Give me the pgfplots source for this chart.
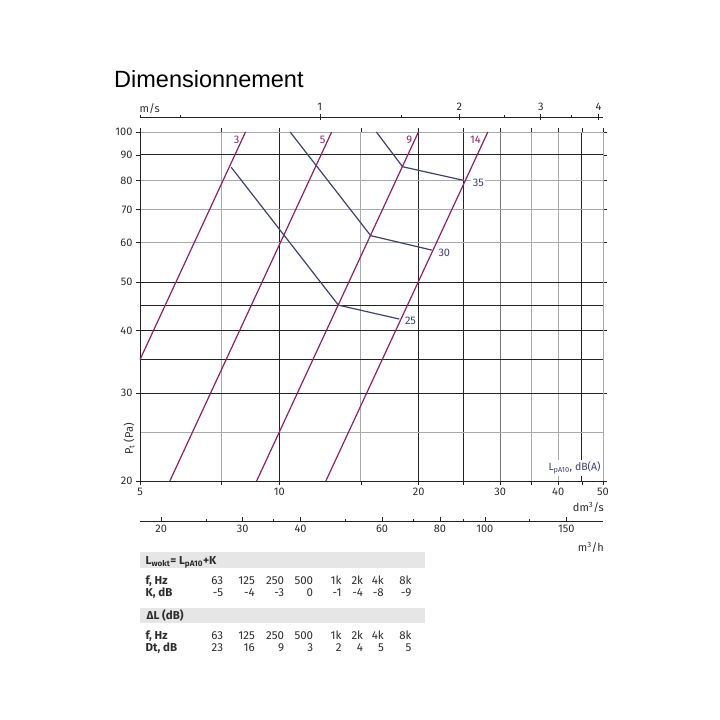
\documentclass[border=0pt]{standalone}
\usepackage{pgfplots}
\pgfplotsset{compat=1.18}
\usepackage{fontspec}
\setmainfont{Fira Sans}
\newfontfamily\titlefont{Liberation Sans}
\definecolor{lpurple}{RGB}{142,32,102}
\definecolor{lblue}{RGB}{62,66,112}
\definecolor{gdark}{RGB}{35,35,35}
\definecolor{gmid}{RGB}{120,120,120}
\definecolor{glight}{RGB}{170,170,170}
\definecolor{txt}{RGB}{45,45,45}
\definecolor{barbg}{RGB}{230,230,230}
\pgfplotsset{
  lbl/.style={font=\fontsize{11}{13}\selectfont, text=txt},
}
\begin{document}
\begin{tikzpicture}
\path[use as bounding box] (0pt,0pt) rectangle (720pt,720pt);
\node[anchor=base west, inner sep=0, text=black, font=\titlefont\fontsize{23.5}{28}\selectfont] at (114pt,632pt) {Dimensionnement};

% main chart
\begin{axis}[
  at={(140pt,239pt)}, anchor=south west, scale only axis,
  width=463pt, height=349pt,
  xmode=log, ymode=log,
  xmin=5, xmax=50, ymin=20, ymax=100,
  clip=false,
  axis line style={draw=none},
  xtick={5,7.5,10,15,20,25,30,35,40,45,50},
  xticklabels={5,,10,,20,,30,,40,,50},
  ytick={20,30,40,50,60,70,80,90,100},
  yticklabels={20,30,40,50,60,70,80,90,100},
  minor tick num=0,
  tick align=outside,
  major tick length=4pt,
  tick style={gdark, line width=0.6pt},
  xticklabel style={lbl},
  yticklabel style={lbl},
]
\pgfplotsinvokeforeach{7.5,15,35,40}{\draw[glight, line width=0.9pt] (axis cs:#1,20) -- (axis cs:#1,100);}
\pgfplotsinvokeforeach{30}{\draw[gmid, line width=0.9pt] (axis cs:#1,20) -- (axis cs:#1,100);}
\pgfplotsinvokeforeach{10,20,25,45}{\draw[gdark, line width=0.9pt] (axis cs:#1,20) -- (axis cs:#1,100);}
\pgfplotsinvokeforeach{25,60,70,80}{\draw[glight, line width=0.9pt] (axis cs:5,#1) -- (axis cs:50,#1);}
\pgfplotsinvokeforeach{30,35,40,45,50,90}{\draw[gdark, line width=0.9pt] (axis cs:5,#1) -- (axis cs:50,#1);}
\draw[glight, line width=0.9pt] (axis cs:5,100) -- (axis cs:50,100) -- (axis cs:50,20);
\draw[gdark, line width=0.9pt] (axis cs:5,100) -- (axis cs:5,20) -- (axis cs:50,20);

% duct lines (purple)
\addplot[lpurple, line width=1.2pt] coordinates {(5,35) (8.45,100)};
\addplot[lpurple, line width=1.2pt] coordinates {(5.8,20) (12.97,100)};
\addplot[lpurple, line width=1.2pt] coordinates {(8.93,20) (19.97,100)};
\addplot[lpurple, line width=1.2pt] coordinates {(12.6,20) (28.2,100)};
% sound level lines (blue)
\addplot[lblue, line width=1.2pt] coordinates {(7.87,85) (13.41,45) (18.16,42.2)};
\addplot[lblue, line width=1.2pt] coordinates {(10.55,100) (15.75,62) (21.34,58)};
\addplot[lblue, line width=1.2pt] coordinates {(16.2,100) (18.45,85.2) (25,80)};

\node[anchor=north east, inner sep=0, text=lpurple, font=\fontsize{11}{13}\selectfont, xshift=-6pt, yshift=-4pt] at (axis cs:8.45,100) {3};
\node[anchor=north east, inner sep=0, text=lpurple, font=\fontsize{11}{13}\selectfont, xshift=-6pt, yshift=-4pt] at (axis cs:12.97,100) {5};
\node[anchor=north east, inner sep=0, text=lpurple, font=\fontsize{11}{13}\selectfont, xshift=-6pt, yshift=-4pt] at (axis cs:19.97,100) {9};
\node[anchor=north east, inner sep=0, text=lpurple, font=\fontsize{11}{13}\selectfont, xshift=-7pt, yshift=-4pt] at (axis cs:28.2,100) {14};

\node[anchor=west, fill=white, inner sep=1.5pt, text=lblue, font=\fontsize{11}{13}\selectfont, xshift=7.5pt, yshift=-2.5pt] at (axis cs:25,80) {35};
\node[anchor=west, fill=white, inner sep=1.5pt, text=lblue, font=\fontsize{11}{13}\selectfont, xshift=5pt, yshift=-3pt] at (axis cs:21.34,58) {30};
\node[anchor=west, fill=white, inner sep=1.5pt, text=lblue, font=\fontsize{11}{13}\selectfont, xshift=4pt, yshift=-1.5pt] at (axis cs:18.16,42.2) {25};
\end{axis}

\node[fill=white, inner sep=1.5pt, text=lblue, font=\fontsize{10.5}{12}\selectfont] at (574.5pt,252pt) {L\textsubscript{pA10}, dB(A)};
\node[rotate=90, inner sep=0, text=txt, font=\fontsize{11}{13}\selectfont] at (129pt,281pt) {P\textsubscript{t} (Pa)};
\node[anchor=east, inner sep=0, text=txt, font=\fontsize{11}{13}\selectfont] at (604pt,213pt) {dm\textsuperscript{3}/s};
\node[anchor=east, inner sep=0, text=txt, font=\fontsize{11}{13}\selectfont] at (604pt,173pt) {m\textsuperscript{3}/h};
\node[anchor=west, inner sep=0, text=txt, font=\fontsize{11}{13}\selectfont] at (139.5pt,611pt) {m/s};

% top axis: velocity m/s
\begin{axis}[
  at={(140pt,603pt)}, anchor=north west, scale only axis,
  width=463pt, height=1pt,
  xmode=log, xmin=0.40883, xmax=4.0883, ymin=0, ymax=1,
  axis x line*=top, axis y line=none,
  axis line style={gdark, line width=0.7pt},
  xtick={1,2,3,4}, xticklabels={1,2,3,4},
  minor tick num=0,
  extra x ticks={0.40883,0.5,1.5,2.5,3.5},
  extra x tick labels={},
  extra x tick style={major tick length=3pt},
  tick align=center, major tick length=6pt,
  tick style={gdark, line width=0.6pt},
  xticklabel style={lbl},
]
\end{axis}

% bottom axis: m3/h
\begin{axis}[
  at={(140pt,198.3pt)}, anchor=south west, scale only axis,
  width=463pt, height=1pt,
  xmode=log, xmin=18, xmax=180, ymin=0, ymax=1,
  axis x line*=bottom, axis y line=none,
  axis line style={gdark, line width=0.7pt},
  xtick={20,30,40,60,80,100,150}, xticklabels={20,30,40,60,80,100,150},
  minor tick num=0,
  extra x ticks={25,35,50,70,90,125},
  extra x tick labels={},
  extra x tick style={major tick length=2.5pt},
  tick align=inside, major tick length=4.5pt,
  tick style={gdark, line width=0.6pt},
  xticklabel style={lbl},
]
\end{axis}

% tables
\fill[barbg] (140pt,151.7pt) rectangle (425pt,168.3pt);
\fill[barbg] (140pt,96.7pt) rectangle (425pt,111.7pt);
\begin{scope}[every node/.style={inner sep=0, text=txt, font=\fontsize{11.5}{13}\selectfont}]
\node[anchor=base west, font=\bfseries\fontsize{11.5}{13}\selectfont] at (145.5pt,155.3pt) {L\textsubscript{wokt}= L\textsubscript{pA10}+K};
\node[anchor=base west, font=\bfseries\fontsize{11.5}{13}\selectfont] at (145.5pt,135.3pt) {f, Hz};
\node[anchor=base west, font=\bfseries\fontsize{11.5}{13}\selectfont] at (145.5pt,123.7pt) {K, dB};
\node[anchor=base west, font=\bfseries\fontsize{11.5}{13}\selectfont] at (146.5pt,100pt) {ΔL (dB)};
\node[anchor=base west, font=\bfseries\fontsize{11.5}{13}\selectfont] at (145.5pt,80.3pt) {f, Hz};
\node[anchor=base west, font=\bfseries\fontsize{11.5}{13}\selectfont] at (145.5pt,68.7pt) {Dt, dB};
\foreach \xx/\f/\k/\d in {223.3/63/-5/23, 255/125/-4/16, 284.3/250/-3/9, 313.3/500/0/3, 341.7/1k/-1/2, 363.3/2k/-4/4, 384/4k/-8/5, 411.7/8k/-9/5} {
  \node[anchor=base east] at (\xx pt,135.3pt) {\f};
  \node[anchor=base east] at (\xx pt,123.7pt) {\k};
  \node[anchor=base east] at (\xx pt,80.3pt) {\f};
  \node[anchor=base east] at (\xx pt,68.7pt) {\d};
}
\end{scope}
\end{tikzpicture}
\end{document}
